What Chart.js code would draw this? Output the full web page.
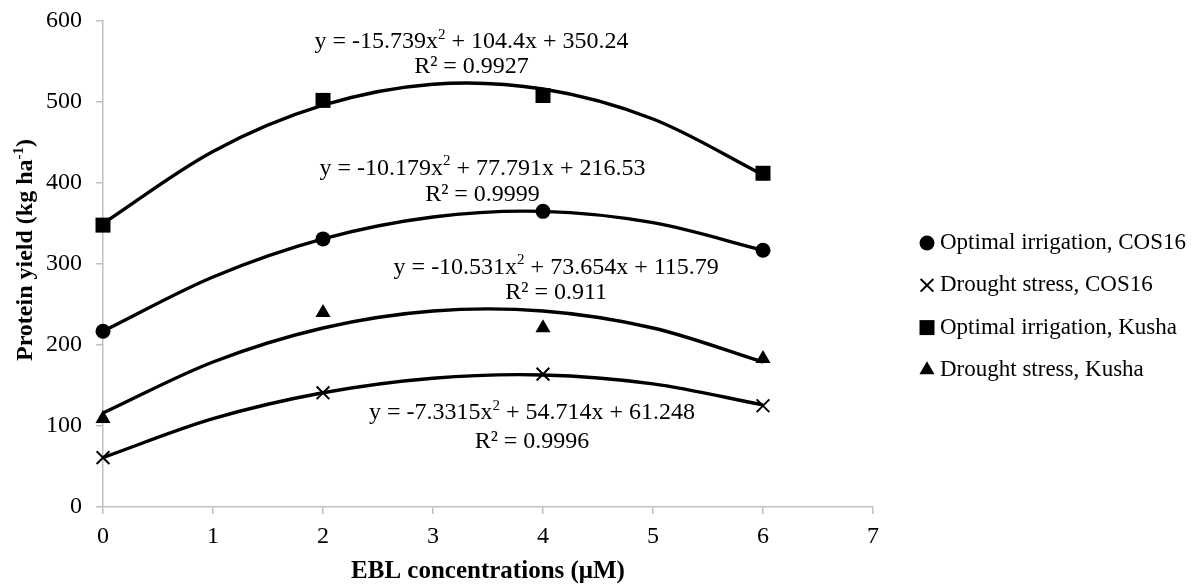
<!DOCTYPE html>
<html lang="en">
<head>
<meta charset="UTF-8">
<title>Protein yield vs EBL</title>
<script src="https://cdn.jsdelivr.net/npm/chart.js"></script>
<style>
  body { margin: 0; background: #fff; }
  #wrap { width: 1200px; height: 587px; }
</style>
</head>
<body>
<div id="wrap">
  <canvas id="yieldChart" width="1200" height="587"></canvas>
</div>

<script>
// measured points
const ebl = [0, 2, 4, 6];
const optCos16 = [217, 331, 365, 317];
const droughtCos16 = [61, 141, 164, 125];
const optKusha = [348, 502, 508, 412];
const droughtKusha = [109, 240, 221, 183];

// polynomial trendlines, read at whole steps of x
const trendX = [0, 1, 2, 3, 4, 5, 6];
const optCos16Trend = [217, 284, 331, 358, 365, 351, 317];
const droughtCos16Trend = [61, 109, 141, 159, 163, 152, 126];
const optKushaTrend = [350, 439, 496, 522, 516, 479, 410];
const droughtKushaTrend = [116, 179, 221, 242, 242, 221, 179];

const seriesLabels = [
  'Optimal irrigation, COS16',
  'Drought stress, COS16',
  'Optimal irrigation, Kusha',
  'Drought stress, Kusha'
];

const xTicks = [0, 1, 2, 3, 4, 5, 6, 7];
const yTicks = [0, 100, 200, 300, 400, 500, 600];

// trendline equations (text), anchored in data units
const equations = [
  { x: 3.35, y: 574, parts: [['y = -15.739x'], ['2', 1], [' + 104.4x + 350.24']] },
  { x: 3.35, y: 543, parts: [['R² = 0.9927']] },
  { x: 3.45, y: 418, parts: [['y = -10.179x'], ['2', 1], [' + 77.791x + 216.53']] },
  { x: 3.45, y: 385, parts: [['R² = 0.9999']] },
  { x: 4.12, y: 296, parts: [['y = -10.531x'], ['2', 1], [' + 73.654x + 115.79']] },
  { x: 4.12, y: 264, parts: [['R² = 0.911']] },
  { x: 3.9, y: 116, parts: [['y = -7.3315x'], ['2', 1], [' + 54.714x + 61.248']] },
  { x: 3.9, y: 80, parts: [['R² = 0.9996']] }
];

const SERIF = "'Liberation Serif', 'Times New Roman', serif";
Chart.defaults.font.family = SERIF;
Chart.defaults.color = '#000';

function toPts(xs, ys) {
  return xs.map((x, i) => ({ x: x, y: ys[i] }));
}

// draws text pieces with superscripts, centred on cx, cy
function drawRich(ctx, parts, cx, cy, size, weight) {
  const fontFor = (sup) => (weight || 'normal') + ' ' + (sup ? Math.round(size * 0.62) : size) + 'px ' + SERIF;
  let total = 0;
  parts.forEach(p => { ctx.font = fontFor(p[1]); total += ctx.measureText(p[0]).width; });
  let x = cx - total / 2;
  ctx.textAlign = 'left';
  ctx.textBaseline = 'middle';
  parts.forEach(p => {
    ctx.font = fontFor(p[1]);
    ctx.fillText(p[0], x, p[1] ? cy - size * 0.3 : cy);
    x += ctx.measureText(p[0]).width;
  });
}

const extras = {
  id: 'extras',
  afterDraw(chart) {
    const ctx = chart.ctx;
    const xs = chart.scales.x, ys = chart.scales.y;
    ctx.save();
    ctx.fillStyle = '#000';
    equations.forEach(e => {
      drawRich(ctx, e.parts, xs.getPixelForValue(e.x), ys.getPixelForValue(e.y), 24);
    });

    // y axis title with superscript
    ctx.save();
    ctx.translate(26, 250);
    ctx.rotate(-Math.PI / 2);
    drawRich(ctx, [['Protein yield (kg ha'], ['-1', 1], [')']], 0, 0, 24, 'bold');
    ctx.restore();

    // legend, only the marker series
    const markers = chart.data.datasets.filter(d => d.inLegend);
    markers.forEach((d, i) => {
      const y = 243 + i * 42.3;
      ctx.fillStyle = '#000';
      ctx.strokeStyle = '#000';
      ctx.lineWidth = d.borderWidth;
      Chart.helpers.drawPoint(ctx, {
        pointStyle: d.pointStyle,
        radius: d.pointRadius,
        borderWidth: d.borderWidth,
        rotation: 0
      }, 927, y);
      ctx.font = '23px ' + SERIF;
      ctx.textAlign = 'left';
      ctx.textBaseline = 'middle';
      ctx.fillText(d.label, 940, y);
    });
    ctx.restore();
  }
};

function markerSet(label, ys, style, radius, bw) {
  return {
    type: 'scatter',
    label: label,
    data: toPts(ebl, ys),
    pointStyle: style,
    pointRadius: radius,
    pointHoverRadius: radius,
    backgroundColor: '#000',
    borderColor: '#000',
    borderWidth: bw,
    clip: false,
    inLegend: true
  };
}

function trendSet(ys) {
  return {
    type: 'line',
    data: toPts(trendX, ys),
    borderColor: '#000',
    borderWidth: 3.4,
    pointRadius: 0,
    tension: 0.33,
    clip: false,
    fill: false
  };
}

const ctx = document.getElementById('yieldChart').getContext('2d');
const yieldChart = new Chart(ctx, {
  type: 'scatter',
  data: {
    datasets: [
      trendSet(optCos16Trend),
      trendSet(droughtCos16Trend),
      trendSet(optKushaTrend),
      trendSet(droughtKushaTrend),
      markerSet(seriesLabels[0], optCos16, 'circle', 7.5, 0),
      markerSet(seriesLabels[1], droughtCos16, 'crossRot', 9, 2),
      markerSet(seriesLabels[2], optKusha, 'rect', 10.6, 0),
      markerSet(seriesLabels[3], droughtKusha, 'triangle', 8.7, 0)
    ]
  },
  options: {
    responsive: false,
    animation: false,
    layout: { padding: { top: 21, right: 327, left: 0, bottom: 0 } },
    plugins: {
      legend: { display: false },
      tooltip: { enabled: false }
    },
    scales: {
      x: {
        type: 'linear',
        min: 0,
        max: 7,
        afterFit: (s) => { s.height = 80; },
        afterBuildTicks: (s) => { s.ticks = xTicks.map(v => ({ value: v })); },
        grid: { drawOnChartArea: false, drawTicks: true, tickLength: 7, color: '#bfbfbf', lineWidth: 1.5 },
        border: { color: '#bfbfbf', width: 1.5 },
        ticks: { font: { size: 24 }, padding: 8, color: '#000' },
        title: {
          display: true,
          text: 'EBL concentrations (μM)',
          font: { size: 25, weight: 'bold' },
          color: '#000',
          padding: { top: 0, bottom: 0 }
        }
      },
      y: {
        min: 0,
        max: 600,
        afterFit: (s) => { s.width = 103; s.paddingTop = 0; s.paddingBottom = 0; },
        afterBuildTicks: (s) => { s.ticks = yTicks.map(v => ({ value: v })); },
        grid: { drawOnChartArea: false, drawTicks: true, tickLength: 7, color: '#bfbfbf', lineWidth: 1.5 },
        border: { color: '#bfbfbf', width: 1.5 },
        ticks: { font: { size: 24 }, padding: 14, color: '#000' }
      }
    }
  },
  plugins: [extras]
});
</script>
</body>
</html>
